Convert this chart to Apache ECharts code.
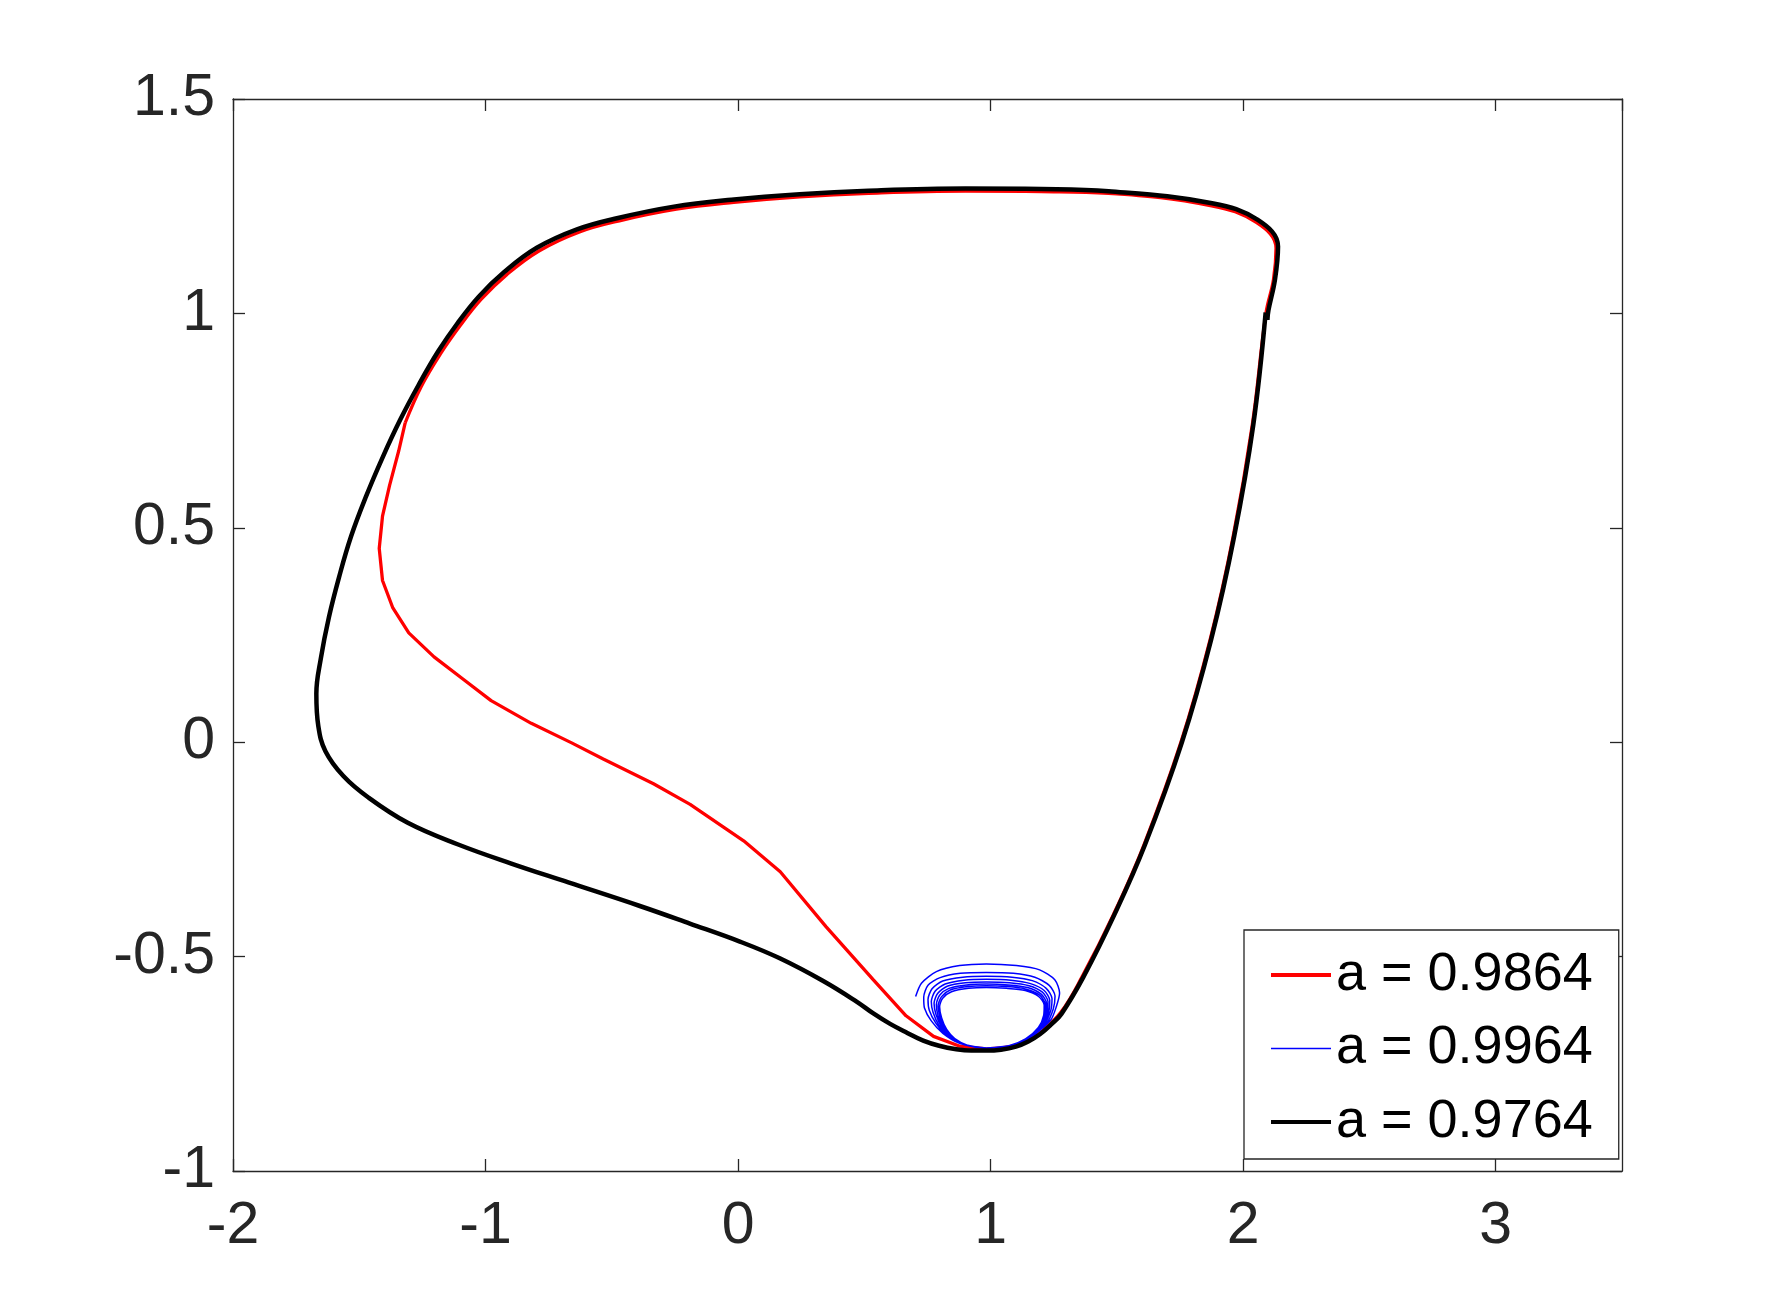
<!DOCTYPE html>
<html>
<head>
<meta charset="utf-8">
<style>
  html, body { margin: 0; padding: 0; background: #ffffff; }
  #chart { width: 1792px; height: 1316px; }
</style>
<script src="https://cdn.jsdelivr.net/npm/echarts@6/dist/echarts.min.js"></script>
</head>
<body>
<div id="chart"></div>
<script>
// ---- data ----
const seriesNames = ['a = 0.9864', 'a = 0.9964', 'a = 0.9764'];
const xTickLabels = ['-2', '-1', '0', '1', '2', '3'];
const yTickLabels = ['-1', '-0.5', '0', '0.5', '1', '1.5'];

// black trajectory (a = 0.9764)
const blackPath = [
  [2.089, 1.002], [2.040, 0.740], [1.964, 0.479], [1.873, 0.239], [1.757, -0.001],
  [1.610, -0.241], [1.491, -0.401], [1.367, -0.548], [1.281, -0.633], [1.240, -0.658],
  [1.195, -0.681], [1.149, -0.698], [1.100, -0.710], [1.041, -0.717], [0.982, -0.719],
  [0.923, -0.719], [0.864, -0.716], [0.796, -0.708], [0.733, -0.696], [0.670, -0.678],
  [0.602, -0.657], [0.534, -0.632], [0.469, -0.605], [0.337, -0.557], [0.165, -0.504],
  [0.007, -0.465], [-0.191, -0.423], [-0.389, -0.382], [-0.672, -0.327], [-0.898, -0.283],
  [-1.111, -0.238], [-1.308, -0.188], [-1.464, -0.129], [-1.563, -0.079], [-1.634, -0.021],
  [-1.662, 0.037], [-1.670, 0.113], [-1.652, 0.196], [-1.620, 0.292], [-1.580, 0.385],
  [-1.533, 0.479], [-1.474, 0.572], [-1.407, 0.665], [-1.337, 0.753], [-1.265, 0.833],
  [-1.188, 0.911], [-1.111, 0.977], [-1.027, 1.039], [-0.925, 1.097], [-0.797, 1.153],
  [-0.638, 1.196], [-0.480, 1.222], [-0.254, 1.249], [-0.027, 1.265], [0.244, 1.278],
  [0.516, 1.286], [0.900, 1.291], [1.200, 1.290], [1.467, 1.285], [1.877, 1.257],
  [2.058, 1.218], [2.138, 1.156], [2.126, 1.079], [2.100, 1.007], [2.096, 0.985]
];

// red trajectory (a = 0.9864): inner branch and the part on the cycle
const redInner = [
  [0.983, -0.715], [0.878, -0.709], [0.774, -0.686], [0.665, -0.638], [0.534, -0.553],
  [0.348, -0.430], [0.167, -0.302], [0.022, -0.230], [-0.190, -0.145], [-0.335, -0.097],
  [-0.534, -0.039], [-0.661, -0.001], [-0.819, 0.044], [-0.978, 0.097], [-1.091, 0.148],
  [-1.204, 0.199], [-1.304, 0.255], [-1.367, 0.313], [-1.408, 0.377], [-1.421, 0.452],
  [-1.408, 0.527], [-1.380, 0.599], [-1.344, 0.679], [-1.318, 0.745]
];
const redCycle = [
  [-1.318, 0.745], [-1.255, 0.829], [-1.178, 0.906], [-1.101, 0.971], [-1.017, 1.033],
  [-0.915, 1.091], [-0.787, 1.146], [-0.628, 1.190], [-0.470, 1.216], [-0.244, 1.243],
  [-0.017, 1.259], [0.244, 1.272], [0.516, 1.280], [0.900, 1.285], [1.200, 1.284],
  [1.467, 1.280], [1.875, 1.251], [2.052, 1.212], [2.130, 1.152], [2.120, 1.079],
  [2.090, 1.000], [2.036, 0.740], [1.960, 0.479], [1.869, 0.239], [1.753, -0.001],
  [1.606, -0.241], [1.487, -0.401], [1.363, -0.546], [1.278, -0.630], [1.195, -0.678],
  [1.149, -0.695], [1.100, -0.707], [1.041, -0.713], [0.983, -0.715]
];

// blue spiral (a = 0.9964)
const blueSpiral = [
  [0.703, -0.593], [0.726, -0.562], [0.785, -0.535], [0.877, -0.521], [0.983, -0.517],
  [1.102, -0.521], [1.194, -0.531], [1.254, -0.554], [1.273, -0.585], [1.260, -0.617],
  [1.238, -0.648], [1.168, -0.683], [1.089, -0.706], [0.983, -0.714], [0.877, -0.702],
  [0.811, -0.679], [0.765, -0.650], [0.738, -0.620],
  [0.735, -0.595], [0.752, -0.567], [0.800, -0.549], [0.880, -0.539], [0.983, -0.537],
  [1.090, -0.539], [1.175, -0.548], [1.232, -0.567], [1.255, -0.592], [1.248, -0.622],
  [1.222, -0.655], [1.160, -0.688], [1.085, -0.707], [0.983, -0.713], [0.885, -0.703],
  [0.823, -0.682], [0.783, -0.655], [0.757, -0.625],
  [0.752, -0.600], [0.768, -0.575], [0.810, -0.557], [0.890, -0.548], [0.983, -0.546],
  [1.085, -0.548], [1.165, -0.556], [1.220, -0.574], [1.243, -0.598], [1.238, -0.626],
  [1.212, -0.658], [1.153, -0.689], [1.082, -0.707], [0.983, -0.713], [0.890, -0.704],
  [0.832, -0.685], [0.795, -0.660], [0.772, -0.630],
  [0.765, -0.605], [0.780, -0.581], [0.820, -0.564], [0.895, -0.555], [0.983, -0.553],
  [1.080, -0.555], [1.158, -0.563], [1.212, -0.579], [1.234, -0.602], [1.230, -0.629],
  [1.205, -0.660], [1.148, -0.690], [1.080, -0.707], [0.983, -0.713], [0.895, -0.705],
  [0.840, -0.687], [0.805, -0.663], [0.783, -0.634],
  [0.776, -0.609], [0.790, -0.586], [0.828, -0.569], [0.900, -0.561], [0.983, -0.559],
  [1.075, -0.561], [1.152, -0.568], [1.205, -0.583], [1.227, -0.605], [1.224, -0.631],
  [1.200, -0.662], [1.145, -0.691], [1.078, -0.707], [0.983, -0.713], [0.900, -0.706],
  [0.847, -0.689], [0.813, -0.666], [0.792, -0.638],
  [0.785, -0.612], [0.798, -0.590], [0.835, -0.574], [0.905, -0.566], [0.983, -0.564],
  [1.070, -0.566], [1.146, -0.572], [1.199, -0.587], [1.221, -0.608], [1.219, -0.633],
  [1.196, -0.663], [1.142, -0.691], [1.077, -0.707], [0.983, -0.713], [0.905, -0.706],
  [0.853, -0.690], [0.820, -0.668], [0.800, -0.641],
  [0.792, -0.615], [0.805, -0.594], [0.840, -0.578], [0.910, -0.570], [0.983, -0.568],
  [1.066, -0.570], [1.141, -0.576], [1.194, -0.590], [1.216, -0.611], [1.214, -0.635],
  [1.192, -0.664], [1.140, -0.692], [1.076, -0.707], [0.983, -0.713], [0.910, -0.707],
  [0.858, -0.691], [0.826, -0.670], [0.806, -0.643],
  [0.798, -0.617], [0.810, -0.597], [0.845, -0.582], [0.913, -0.574], [0.983, -0.572],
  [1.063, -0.574], [1.137, -0.579], [1.190, -0.593], [1.212, -0.613], [1.210, -0.637],
  [1.189, -0.665], [1.138, -0.692], [1.075, -0.707], [0.983, -0.713]
];

// ---- chart ----
const FONT = '"Liberation Sans", Arial, Helvetica, sans-serif';
const AX = '#262626';
const chart = echarts.init(document.getElementById('chart'), null, { renderer: 'canvas' });

function tickFmt(labels) {
  return function (v) {
    const s = String(Math.round(v * 10) / 10);
    return labels.indexOf(s) >= 0 ? s : '';
  };
}

const axisCommon = {
  type: 'value',
  axisLine: { show: true, onZero: false, lineStyle: { color: AX, width: 1.3 } },
  axisTick: { show: true, inside: true, length: 12, lineStyle: { color: AX, width: 1.3 } },
  splitLine: { show: false }
};

chart.setOption({
  animation: false,
  backgroundColor: '#ffffff',
  grid: { left: 233, top: 99, right: 170, bottom: 145, containLabel: false },
  xAxis: [
    Object.assign({}, axisCommon, {
      min: -2, max: 3.5, interval: 1, position: 'bottom',
      axisLabel: { show: true, fontSize: 59, color: AX, fontFamily: FONT, margin: 26,
                   showMaxLabel: false, formatter: tickFmt(xTickLabels) }
    }),
    Object.assign({}, axisCommon, {
      min: -2, max: 3.5, interval: 1, position: 'top',
      axisLabel: { show: false }
    })
  ],
  yAxis: [
    Object.assign({}, axisCommon, {
      min: -1, max: 1.5, interval: 0.5, position: 'left',
      axisLabel: { show: true, fontSize: 59, color: AX, fontFamily: FONT, margin: 18,
                   formatter: tickFmt(yTickLabels) }
    }),
    Object.assign({}, axisCommon, {
      min: -1, max: 1.5, interval: 0.5, position: 'right',
      axisLabel: { show: false }
    })
  ],
  legend: {
    show: true,
    orient: 'vertical',
    left: 1244, top: 930,
    padding: [15, 26, 7, 25],
    itemWidth: 60, itemHeight: 14, itemGap: 13.5,
    backgroundColor: '#ffffff',
    borderColor: AX, borderWidth: 1.3,
    itemStyle: { opacity: 0 },
    textStyle: { fontSize: 54, color: '#000000', fontFamily: FONT, lineHeight: 60 },
    data: [
      { name: seriesNames[0], lineStyle: { width: 4, color: '#ff0000' } },
      { name: seriesNames[1], lineStyle: { width: 1.6, color: '#0000ff' } },
      { name: seriesNames[2], lineStyle: { width: 4, color: '#000000' } }
    ]
  },
  series: [
    {
      name: seriesNames[0], type: 'line', data: redInner, xAxisIndex: 0, yAxisIndex: 0,
      symbol: 'none', smooth: false, lineStyle: { color: '#ff0000', width: 3.3 },
      itemStyle: { color: '#ff0000' }, z: 2
    },
    {
      name: seriesNames[0], type: 'line', data: redCycle, xAxisIndex: 0, yAxisIndex: 0,
      symbol: 'none', smooth: 0.4, lineStyle: { color: '#ff0000', width: 3.3 },
      itemStyle: { color: '#ff0000' }, z: 2
    },
    {
      name: seriesNames[1], type: 'line', data: blueSpiral, xAxisIndex: 0, yAxisIndex: 0,
      symbol: 'none', smooth: 0.25, lineStyle: { color: '#0000ff', width: 1.5 },
      itemStyle: { color: '#0000ff' }, z: 3
    },
    {
      name: seriesNames[2], type: 'line', data: blackPath, xAxisIndex: 0, yAxisIndex: 0,
      symbol: 'none', smooth: 0.4, lineStyle: { color: '#000000', width: 4.5 },
      itemStyle: { color: '#000000' }, z: 4
    }
  ]
});
</script>
</body>
</html>
